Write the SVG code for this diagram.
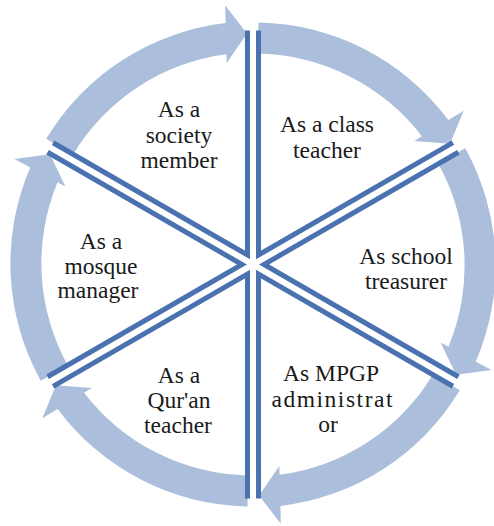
<svg xmlns="http://www.w3.org/2000/svg" xmlns:xlink="http://www.w3.org/1999/xlink" width="494" height="526" viewBox="0 0 494 526">
  <style>
    .arrow { fill: #abbedc; }
    .spoke { fill: none; stroke: #4a71b0; stroke-width: 5; stroke-linejoin: miter; stroke-miterlimit: 10; }
  </style>
  <defs>
    <!-- one curved block arrow, spanning the 60-degree sector from -90 to -30 degrees around (253,264.5) -->
    <path id="cycle-arrow" class="arrow"
          d="M258.5,22.6 A242,242 0 0 1 448.4,120.1 L463.7,110.7 L450.0,143.8 L414.3,141.0 L421.9,136.3 A211,211 0 0 0 257.8,53.6 Z"/>
    <!-- a pair of divider strips meeting in a V near the centre -->
    <path id="divider-v" class="spoke" d="M258.5,30.5 L258.5,255.0 L452.9,142.7"/>
  </defs>

  <g id="connectors">
    <use xlink:href="#cycle-arrow"/>
    <use xlink:href="#cycle-arrow" transform="rotate(60 253 264.5)"/>
    <use xlink:href="#cycle-arrow" transform="rotate(120 253 264.5)"/>
    <use xlink:href="#cycle-arrow" transform="rotate(180 253 264.5)"/>
    <use xlink:href="#cycle-arrow" transform="rotate(240 253 264.5)"/>
    <use xlink:href="#cycle-arrow" transform="rotate(300 253 264.5)"/>
  </g>

  <g id="dividers">
    <use xlink:href="#divider-v"/>
    <use xlink:href="#divider-v" transform="rotate(60 253 264.5)"/>
    <use xlink:href="#divider-v" transform="rotate(120 253 264.5)"/>
    <use xlink:href="#divider-v" transform="rotate(180 253 264.5)"/>
    <use xlink:href="#divider-v" transform="rotate(240 253 264.5)"/>
    <use xlink:href="#divider-v" transform="rotate(300 253 264.5)"/>
  </g>

  <g font-family="Liberation Serif, Times New Roman, serif" font-size="23.5" fill="#1a1a1a" text-anchor="middle">
    <g id="society-member">
      <text x="179" y="117">As a</text>
      <text x="179" y="142.5">society</text>
      <text x="179" y="168">member</text>
    </g>
    <g id="class-teacher">
      <text x="327" y="131.5">As a class</text>
      <text x="327" y="158">teacher</text>
    </g>
    <g id="school-treasurer">
      <text x="406" y="263.5">As school</text>
      <text x="406" y="288.5">treasurer</text>
    </g>
    <g id="mpgp-administrator">
      <text x="331" y="380.7">As MPGP</text>
      <text x="332" y="406.5" textLength="121" lengthAdjust="spacing">administrat</text>
      <text x="328" y="432">or</text>
    </g>
    <g id="quran-teacher">
      <text x="179" y="383.3">As a</text>
      <text x="179" y="408">Qur'an</text>
      <text x="178" y="433">teacher</text>
    </g>
    <g id="mosque-manager">
      <text x="101" y="249">As a</text>
      <text x="101" y="274">mosque</text>
      <text x="98" y="298">manager</text>
    </g>
  </g>
</svg>
